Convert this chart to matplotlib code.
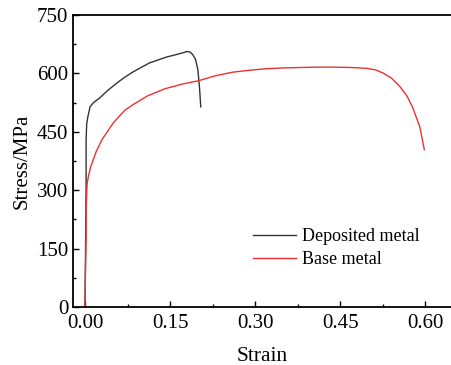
import matplotlib
matplotlib.use('Agg')
import matplotlib.pyplot as plt
from matplotlib.ticker import MultipleLocator

plt.rcParams['font.family'] = ['Liberation Serif', 'DejaVu Serif']
plt.rcParams['mathtext.fontset'] = 'stix'

# 沉积金属
dep_strain = [0.000, 0.001, 0.002, 0.002, 0.003, 0.005, 0.009, 0.015, 0.026, 0.040, 0.056,
              0.070, 0.085, 0.100, 0.114, 0.130, 0.144, 0.160, 0.173, 0.179, 0.185,
              0.190, 0.195, 0.199, 0.202, 0.204]
dep_stress = [0, 150, 320, 430, 470, 488, 514, 525, 537, 556, 575,
              590, 604, 616, 627, 635, 642, 648, 653, 656, 655,
              648, 635, 609, 560, 514]

# 母材
base_strain = [0.000, 0.001, 0.002, 0.002, 0.003, 0.004, 0.006, 0.010, 0.020, 0.030, 0.050,
               0.070, 0.085, 0.110, 0.140, 0.170, 0.200, 0.230, 0.260, 0.290, 0.320,
               0.350, 0.378, 0.410, 0.437, 0.470, 0.496, 0.512, 0.525, 0.540, 0.555,
               0.567, 0.577, 0.590, 0.598]
base_stress = [0, 100, 180, 249, 293, 319, 335, 360, 400, 430, 473,
               505, 520, 542, 560, 572, 581, 594, 603, 608, 612,
               614, 615, 616, 616, 615, 613, 609, 601, 588, 566,
               543, 514, 463, 404]

fig = plt.figure(figsize=(4.51, 3.65), dpi=100)
ax = fig.add_axes([0.162, 0.159, 0.838, 0.8])

ax.plot(dep_strain, dep_stress, color='#333333', linewidth=1.0, label='Deposited metal')
ax.plot(base_strain, base_stress, color='#f03030', linewidth=1.0, label='Base metal')

ax.set_xlim(-0.021, 0.645)
ax.set_ylim(0, 750)
ax.xaxis.set_major_locator(MultipleLocator(0.15))
ax.xaxis.set_minor_locator(MultipleLocator(0.075))
ax.yaxis.set_major_locator(MultipleLocator(150))
ax.yaxis.set_minor_locator(MultipleLocator(75))
ax.xaxis.set_major_formatter(plt.FuncFormatter(lambda v, p: f'{v:.2f}'))

ax.tick_params(which='both', direction='in', top=False, right=False, labelsize=15, width=1.0)
ax.tick_params(which='major', length=4)
ax.tick_params(which='minor', length=2.5)
ax.tick_params(axis='x', pad=5)
ax.spines['right'].set_visible(False)
for s in ['left', 'bottom', 'top']:
    ax.spines[s].set_linewidth(1.3)

ax.set_xlabel('Strain', fontsize=15.5, labelpad=10)
ax.set_ylabel('Stress/MPa', fontsize=15, labelpad=4)

ax.legend(loc='upper left', bbox_to_anchor=(0.476, 0.27), frameon=False, fontsize=13,
          handlelength=2.4, handletextpad=0.3, labelspacing=0.32, borderaxespad=0, borderpad=0)

fig.savefig('out.png', dpi=100)
